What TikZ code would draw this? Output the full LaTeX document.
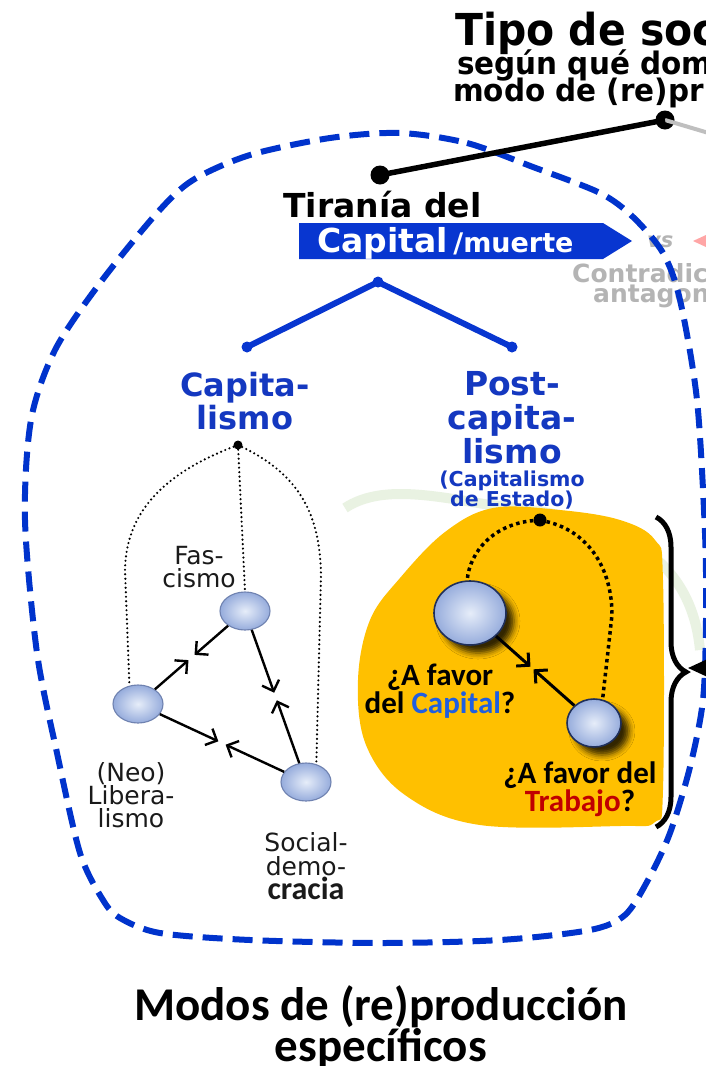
\documentclass[tikz,border=0pt]{standalone}
\usepackage{fontspec}
\setmainfont{DejaVu Sans}
\newfontfamily\calib{Carlito}
\newfontfamily\titlefont[FakeStretch=0.93]{DejaVu Sans}
\newfontfamily\subfont[FakeStretch=0.95]{DejaVu Sans}
\usetikzlibrary{arrows.meta,positioning,calc,shapes.geometric,decorations.pathreplacing,shadows.blur}
\definecolor{dashblue}{HTML}{0033CC}
\definecolor{bannerblue}{HTML}{0836D0}
\definecolor{headblue}{HTML}{1438C0}
\definecolor{capblue}{HTML}{1F5FE0}
\definecolor{trabred}{HTML}{C00000}
\definecolor{blob}{HTML}{FFC000}
\definecolor{bubblein}{HTML}{E6EDF9}
\definecolor{bubbleout}{HTML}{96ACDC}
\definecolor{bubbleline}{HTML}{6F82B0}
\definecolor{navy}{HTML}{1F2F5A}
\definecolor{palegreen}{HTML}{E9F2E2}
\definecolor{fadegrey}{HTML}{B4B4B4}
\definecolor{ink}{HTML}{1A1A1A}
\newcommand{\setfs}[2]{\fontsize{#1}{#2}\selectfont}
\tikzset{
  >=Latex,
  every node/.style={inner sep=0pt,text=ink},
  headline/.style={anchor=base west,text=black,font=\bfseries},
  bluehead/.style={anchor=north,align=center,text=headblue,font=\bfseries\setfs{32}{33}},
  glabel/.style={anchor=north,align=center,font=\setfs{25}{23}},
  ask/.style={anchor=north,align=center,text=black,font=\calib\bfseries\setfs{31}{25}},
  dot/.style={circle,fill=black,minimum size=9pt},
  bluedot/.style={circle,fill=bannerblue,minimum size=11pt},
  bubble/.style={ellipse,draw=bubbleline,line width=1.1pt,inner color=bubblein,outer color=bubbleout,minimum width=50pt,minimum height=38pt},
  bigbubble/.style={bubble,draw=navy,line width=1.6pt,blur shadow={shadow xshift=8pt,shadow yshift=-8pt,shadow blur radius=6pt,shadow opacity=80}},
  conn/.style={-{Straight Barb[length=9pt,width=18pt]},line width=2.4pt,shorten >=4pt},
  oconn/.style={conn,line width=3pt,shorten >=2pt},
  dotline/.style={line width=2.4pt,line cap=round,dash pattern=on 0pt off 4.5pt},
  odotline/.style={line width=3.5pt,dash pattern=on 3.5pt off 3.5pt},
  frame/.style={draw=dashblue,line width=6pt,dash pattern=on 20pt off 10pt},
  bracket/.style={decorate,decoration={brace,amplitude=30pt},line width=5pt},
}
\begin{document}
\begin{tikzpicture}[x=1pt,y=-1pt]
\useasboundingbox (0,0) rectangle (706,1066);
\clip (0,0) rectangle (706,1066);
\fill[white] (0,0) rectangle (706,1066);

% faint shapes behind
\draw[palegreen,line width=10pt] (345,508) .. controls (380,485) and (430,495) .. (490,505)
  .. controls (600,515) and (690,545) .. (700,650);
\node[font=\bfseries\itshape\setfs{21}{21},text=fadegrey,anchor=base west] (vs) at (647,247) {vs};
\fill[red!35] (693,241) -- (706,235) -- (706,247) -- cycle;
\node[headline,text=fadegrey,font=\bfseries\setfs{25}{25}] (contra) at (572,282) {Contradic};
\node[headline,text=fadegrey,font=\bfseries\setfs{25}{25}] (antag) at (593,302) {antagon};

% dashed frame
\draw[frame] plot[smooth cycle] coordinates {(400,133) (467,143) (533,167) (600,193) (633,217)
  (663,253) (680,300) (697,400) (705,533) (706,620) (703,700) (690,767) (670,833) (648,880)
  (625,915) (590,930) (500,940) (380,943) (250,940) (160,933) (120,918) (103,900) (80,853)
  (57,753) (37,653) (25,520) (31,420) (55,350) (100,283) (157,213) (193,180) (250,155) (330,138)};

% orange field
\fill[blob] plot[smooth cycle,tension=0.6] coordinates {(493,508) (560,510) (620,520) (655,540)
  (663,580) (663,790) (655,822) (620,826) (480,825) (405,795) (366,745) (358,680) (370,620)
  (400,578) (445,532)};

% title
\node[headline,font=\titlefont\bfseries\setfs{44}{44}] (tipo) at (455,45) {Tipo de soc};
\node[headline,font=\subfont\bfseries\setfs{31}{31}] (segun) at (457,74) {según qué dom};
\node[headline,font=\subfont\bfseries\setfs{31}{31}] (modo) at (453,101) {modo de (re)pr};
\node[dot,minimum size=19pt] (tipodot) at (665,120) {};
\node[dot,minimum size=19pt] (tiradot) at (380,175) {};
\coordinate (greyend) at (712,134);
\draw[black!25,line width=4pt] (tipodot.center) -- (greyend);
\draw[line width=5.5pt] (tipodot.center) -- (tiradot.center);

% tirania del capital
\node[headline,font=\bfseries\setfs{33}{33}] (tirania) at (283,217) {Tiranía del};
\fill[bannerblue] (299,223) -- (603,223) -- (632,241) -- (603,259) -- (299,259) -- cycle;
\node[headline,text=white,font=\bfseries\setfs{33}{33}] (capital) at (317,252)
  {Capital\,{\setfs{27}{27}/muerte}};
\node[bluedot] (apex) at (378,282) {};
\node[bluedot] (lcap) at (247,347) {};
\node[bluedot] (rpost) at (512,347) {};
\draw[bannerblue,line width=6pt,line join=round] (lcap.center) -- (apex.center) -- (rpost.center);

\node[bluehead] (capita) at (245,372) {Capita-\\lismo};
\node[bluehead,font=\bfseries\setfs{33}{34}] (post) at (512,371) {Post-\\capita-\\lismo};
\node[bluehead,font=\bfseries\setfs{20.5}{20}] (estado) at (512,471) {(Capitalismo\\de Estado)};

% capitalismo graph
\node[dot] (capdot) at (238,445) {};
\node[bubble] (fasc) at (245,611) {};
\node[bubble] (neo) at (138,704) {};
\node[bubble] (socdem) at (306,782) {};
\draw[dotline] (capdot) -- (fasc.north);
\draw[dotline] (capdot) .. controls (160,475) and (126,515) .. (125,570) -- (neo.115);
\draw[dotline] (capdot) .. controls (300,475) and (320,515) .. (321,575) -- (socdem.60);
\coordinate (fnmid) at ($(fasc)!0.5!(neo)$);
\coordinate (fsmid) at ($(fasc)!0.5!(socdem)$);
\coordinate (nsmid) at ($(neo)!0.5!(socdem)$);
\draw[conn] (fasc) -- (fnmid);
\draw[conn] (neo) -- (fnmid);
\draw[conn] (fasc) -- (fsmid);
\draw[conn] (socdem) -- (fsmid);
\draw[conn] (neo) -- (nsmid);
\draw[conn] (socdem) -- (nsmid);
\node[glabel] (fasclbl) at (199,546) {Fas-\\cismo};
\node[glabel] (neolbl) at (131,762) {(Neo)\\Libera-\\lismo};
\node[glabel,font=\setfs{25}{24}] (soclbl) at (306,832)
  {Social-\\demo-\\{\calib\bfseries\setfs{32}{24}cracia}};

% post-capitalismo graph
\node[dot,minimum size=13pt] (odot) at (540,520) {};
\node[bigbubble,minimum width=72pt,minimum height=64pt] (capnode) at (470,613) {};
\node[bigbubble,minimum width=54pt,minimum height=48pt] (trabnode) at (594,723) {};
\draw[odotline] (odot) .. controls (495,524) and (470,550) .. (capnode.95);
\draw[odotline] (odot) .. controls (590,532) and (612,570) .. (612,615) -- (trabnode.70);
\coordinate (ctmid) at ($(capnode)!0.5!(trabnode)$);
\draw[oconn] (capnode) -- (ctmid);
\draw[oconn] (trabnode) -- (ctmid);
\node[ask] (askcap) at (440,664) {¿A favor\\del \textcolor{capblue}{Capital}?};
\node[ask] (asktrab) at (580,762) {¿A favor del\\\textcolor{trabred}{Trabajo}?};

% brace and arrow
\coordinate (bracetop) at (656,517);
\coordinate (bracebot) at (656,827);
\coordinate (bracetip) at (688,668);
\coordinate (arrowsrc) at (740,668);
\draw[bracket] (bracetop) -- (bracebot);
\draw[line width=2pt,-{Triangle[length=18pt,width=16pt]}] (arrowsrc) -- (bracetip);

% caption
\node[anchor=north,align=center,text=black,font=\calib\bfseries\setfs{47}{32}] (modos) at (381,985)
  {Modos de (re)producción\\específicos};
\end{tikzpicture}
\end{document}
